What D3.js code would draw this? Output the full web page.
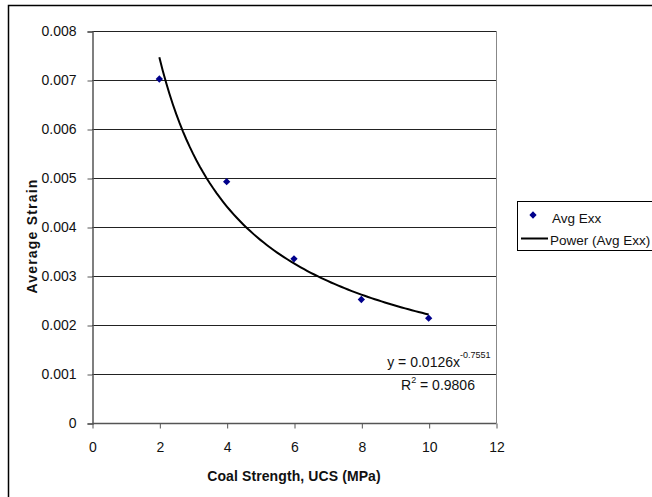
<!DOCTYPE html>
<html><head><meta charset="utf-8">
<script src="https://cdn.jsdelivr.net/npm/d3@7"></script>
<style>html,body{margin:0;padding:0;background:#fff;} svg{display:block;font-family:Arial,"Liberation Sans",sans-serif;}</style>
</head><body>
<svg id="c" width="652" height="497"></svg>
<script>
const ucs = [2, 4, 6, 8, 10];
const avgExx = [0.00702, 0.004925, 0.00335, 0.00252, 0.00214];
const fitCoef = 0.0126;
const fitExp = -0.7551;
const rSquared = "0.9806";
const xTicks = [0, 2, 4, 6, 8, 10, 12];
const yTicks = [0, 0.001, 0.002, 0.003, 0.004, 0.005, 0.006, 0.007, 0.008];

const svg = d3.select("#c");
const L = 92, R = 496, T = 31, B = 423;
const x = d3.scaleLinear().domain([0, 12]).range([L, R]);
const y = d3.scaleLinear().domain([0, 0.008]).range([B, T]);
const FF = "Arial, 'Liberation Sans', sans-serif";

// outer chart border (left and top visible)
svg.append("path").attr("d", `M8.5,497 V5.5 H652`).attr("fill","none").attr("stroke","#000").attr("stroke-width",1.5);

// gridlines
svg.append("g").selectAll("line").data(yTicks.filter(d=>d>0)).join("line")
  .attr("x1", L).attr("x2", R).attr("y1", d=>Math.round(y(d))+0.5).attr("y2", d=>Math.round(y(d))+0.5)
  .attr("stroke", "#222").attr("stroke-width", 1);
// plot area right border
svg.append("line").attr("x1", R+0.5).attr("x2", R+0.5).attr("y1", T).attr("y2", B).attr("stroke","#888");

// axes
const yAxis = d3.axisLeft(y).tickValues(yTicks).tickSize(5).tickPadding(11).tickFormat(d=> d===0 ? "0" : d3.format(".3f")(d));
const gy = svg.append("g").attr("transform", `translate(${L+0.5},0.5)`).call(yAxis);
const xAxis = d3.axisBottom(x).tickValues(xTicks).tickSize(5).tickPadding(14).tickFormat(d3.format("d"));
const gx = svg.append("g").attr("transform", `translate(0.5,${B+0.5})`).call(xAxis);
[gx, gy].forEach(g => {
  g.attr("font-size", null).attr("font-family", null);
  g.select(".domain").attr("stroke", "#555").attr("stroke-width", 1.5);
  g.selectAll(".tick line").attr("stroke", "#555");
  g.selectAll("text").attr("fill", "#111").attr("font-size", 14).attr("font-family", FF);
});
gx.select(".domain").attr("d", `M${L},0H${R}`);

// trendline (power fit from displayed coefficients)
const fitX = d3.range(2, 10.0001, 0.1);
svg.append("path").datum(fitX)
  .attr("d", d3.line().x(d=>x(d)).y(d=>y(fitCoef*Math.pow(d, fitExp))))
  .attr("fill","none").attr("stroke","#000").attr("stroke-width",2);

// points
const diamond = d3.symbol().type(d3.symbolDiamond2).size(34);
svg.append("g").selectAll("path").data(ucs).join("path")
  .attr("transform", (d,i)=>`translate(${x(d)},${y(avgExx[i])})`)
  .attr("d", diamond).attr("fill", "#00008b");

// equation
svg.append("text").attr("x", 460).attr("y", 367).attr("text-anchor","end")
  .style("font-size","14px").attr("fill","#111").text("y = " + fitCoef + "x");
svg.append("text").attr("x", 460).attr("y", 358).style("font-size","9px").attr("fill","#111").text(String(fitExp));
const r2 = svg.append("text").attr("x", 401).attr("y", 390).style("font-size","14px").attr("fill","#111");
r2.append("tspan").text("R");
r2.append("tspan").attr("dy", -7).style("font-size","9px").text("2");
r2.append("tspan").attr("dy", 7).text(" = " + rSquared);

// axis titles
svg.append("text").attr("transform", `translate(37,236) rotate(-90)`).attr("text-anchor","middle")
  .style("font-size","14px").style("font-weight","bold").style("letter-spacing","1.2px").attr("fill","#111").text("Average Strain");
svg.append("text").attr("x", 294).attr("y", 481).attr("text-anchor","middle")
  .style("font-size","14px").style("font-weight","bold").style("letter-spacing","0.1px").attr("fill","#111").text("Coal Strength, UCS (MPa)");

// legend
svg.append("rect").attr("x", 517.5).attr("y", 201.5).attr("width", 150).attr("height", 49).attr("fill","#fff").attr("stroke","#000");
svg.append("path").attr("transform","translate(533,215)").attr("d", diamond).attr("fill","#00008b");
svg.append("text").attr("x", 552).attr("y", 223).style("font-size","13.5px").attr("fill","#111").text("Avg Exx");
svg.append("line").attr("x1", 521).attr("x2", 548).attr("y1", 238.5).attr("y2", 238.5).attr("stroke","#000").attr("stroke-width",2);
svg.append("text").attr("x", 550).attr("y", 245).style("font-size","13.5px").attr("fill","#111").text("Power (Avg Exx)");
</script>
</body></html>
